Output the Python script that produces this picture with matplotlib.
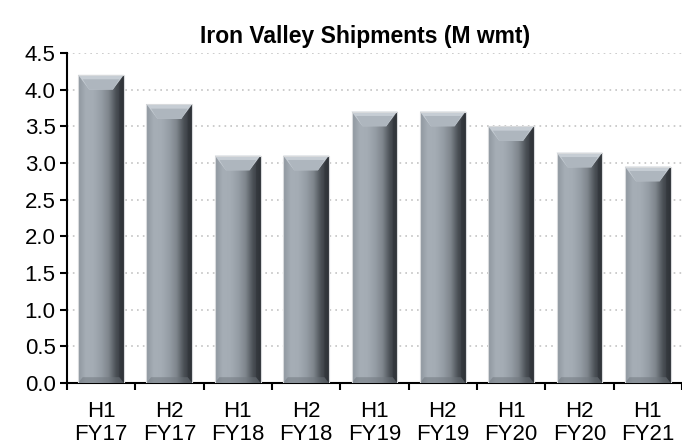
import numpy as np
import matplotlib
matplotlib.use('Agg')
import matplotlib.pyplot as plt
from matplotlib.colors import LinearSegmentedColormap
from matplotlib.patches import Polygon

plt.rcParams['font.family'] = ['Liberation Sans', 'DejaVu Sans']

# shipments per half year
periods = ['H1\nFY17', 'H2\nFY17', 'H1\nFY18', 'H2\nFY18', 'H1\nFY19',
           'H2\nFY19', 'H1\nFY20', 'H2\nFY20', 'H1\nFY21']
shipments = [4.2, 3.8, 3.1, 3.1, 3.7, 3.7, 3.5, 3.14, 2.95]

fig = plt.figure(figsize=(6.82, 4.48), dpi=100)
ax = fig.add_axes([0.098, 0.145, 0.902, 0.737])

x = np.arange(len(periods))
bars = ax.bar(x, shipments, width=0.67, color='#9aa2aa', edgecolor='none', zorder=2)

# bevel-ish shading like the excel bars
side = LinearSegmentedColormap.from_list('side', ['#8e969e', '#a6aeb6', '#a4acb4', '#969ea6', '#7f868d', '#4a4f55', '#2f3338'])
grad = np.linspace(0, 1, 200).reshape(1, -1)
for b in bars:
    x0, w, h = b.get_x(), b.get_width(), b.get_height()
    im = ax.imshow(grad, cmap=side, extent=[x0, x0 + w, 0, h], aspect='auto', zorder=3)
    im.set_clip_path(b)
    d = 0.24 * w
    dy = 0.2
    top = Polygon([(x0, h), (x0 + w, h), (x0 + w - d, h - dy), (x0 + d, h - dy)],
                  closed=True, facecolor='#c6cdd4', edgecolor='none', zorder=4)
    ax.add_patch(top)
    top2 = Polygon([(x0 + 0.1 * w, h - 0.06), (x0 + w - 0.1 * w, h - 0.06),
                    (x0 + w - d, h - dy), (x0 + d, h - dy)],
                   closed=True, facecolor='#aeb6be', edgecolor='none', zorder=4)
    ax.add_patch(top2)
    right = Polygon([(x0 + w, h), (x0 + w, 0), (x0 + w - 0.1 * w, 0.08), (x0 + w - 0.1 * w, h - 0.12)],
                    closed=True, facecolor='#2e3237', alpha=0.5, edgecolor='none', zorder=4)
    ax.add_patch(right)
    bottom = Polygon([(x0, 0), (x0 + w, 0), (x0 + w - 0.1 * w, 0.08), (x0 + 0.1 * w, 0.08)],
                     closed=True, facecolor='#6f767d', alpha=0.5, edgecolor='none', zorder=4)
    ax.add_patch(bottom)
    ax.add_patch(Polygon([(x0, 0), (x0, h), (x0 + w, h), (x0 + w, 0)], closed=False,
                         fill=False, edgecolor='#d8dadc', linewidth=0.8, zorder=5))

ax.set_xlim(-0.5, len(periods) - 0.5)
ax.set_ylim(0, 4.5)
ax.set_yticks(np.arange(0, 4.51, 0.5))
ax.set_yticklabels([f'{v:.1f}' for v in np.arange(0, 4.51, 0.5)], fontsize=16)
ax.yaxis.grid(True, linestyle=(0, (1, 2.5)), color='#c4c4c4', linewidth=1.2, zorder=0)
ax.set_axisbelow(True)

ax.set_xticks(np.arange(-0.5, len(periods), 1))
ax.set_xticklabels([])
ax.set_xticks(x, minor=True)
ax.set_xticklabels(periods, minor=True, fontsize=16, linespacing=1.15)
ax.tick_params(axis='x', which='minor', length=0, pad=13)
ax.tick_params(axis='x', which='major', length=5, width=1.5, direction='out')
ax.tick_params(axis='y', length=5, width=1.5, direction='out', pad=3)

for s in ['top', 'right']:
    ax.spines[s].set_visible(False)
ax.spines['left'].set_linewidth(1.5)
ax.spines['bottom'].set_linewidth(1.5)

ax.set_title('Iron Valley Shipments (M wmt)', fontsize=16.5, fontweight='bold', pad=7, x=0.485)

plt.savefig('out.png', dpi=100)
